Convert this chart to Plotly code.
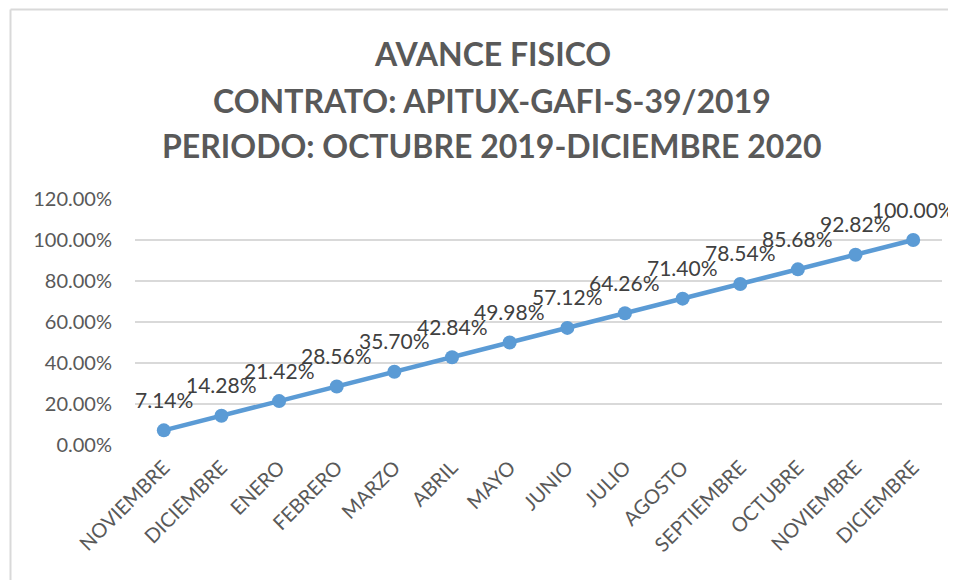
import plotly.graph_objects as go

categories = ["NOVIEMBRE", "DICIEMBRE", "ENERO", "FEBRERO", "MARZO", "ABRIL", "MAYO",
              "JUNIO", "JULIO", "AGOSTO", "SEPTIEMBRE", "OCTUBRE", "NOVIEMBRE", "DICIEMBRE"]
avance = [0.0714, 0.1428, 0.2142, 0.2856, 0.3570, 0.4284, 0.4998,
          0.5712, 0.6426, 0.7140, 0.7854, 0.8568, 0.9282, 1.0000]
title_lines = ["AVANCE FISICO", "CONTRATO: APITUX-GAFI-S-39/2019",
               "PERIODO: OCTUBRE 2019-DICIEMBRE 2020"]

# page size and page offset of the figure (body margin)
W, H = 956, 580
OFF = 8
# plot area in page pixels
PL, PR, PT, PB = 135, 942, 199, 445
pw, ph = PR - PL, PB - PT

def px_x(x):
    return (x - PL) / pw

def px_y(y):
    return (PB - y) / ph

FONT = "Lato"
xs = list(range(len(categories)))

fig = go.Figure()
fig.add_trace(go.Scatter(
    x=xs, y=avance, mode="lines+markers",
    line=dict(color="#5b9bd5", width=4.5),
    marker=dict(color="#5b9bd5", size=14),
    hoverinfo="skip", showlegend=False, cliponaxis=False,
))

annotations = []
for xi, v in zip(xs, avance):
    annotations.append(dict(
        x=xi, y=v, xref="x", yref="y", text=f"{v*100:.2f}%", showarrow=False,
        yshift=31, font=dict(family=FONT, size=21, color="#404040"),
    ))

title_y = [53, 100, 145]
for line, yy in zip(title_lines, title_y):
    annotations.append(dict(
        x=px_x(492), y=px_y(yy), xref="paper", yref="paper", text=f"<b>{line}</b>",
        showarrow=False, xanchor="center", yanchor="middle",
        font=dict(family=FONT, size=32, color="#595959"),
    ))

shapes = [
    dict(type="line", xref="paper", yref="paper", x0=px_x(10.5), x1=px_x(10.5),
         y0=px_y(9.5), y1=px_y(H + 5), line=dict(color="#d9d9d9", width=2)),
    dict(type="line", xref="paper", yref="paper", x0=px_x(10.5), x1=px_x(W + 5),
         y0=px_y(9.5), y1=px_y(9.5), line=dict(color="#d9d9d9", width=2)),
]

fig.update_layout(
    width=W - OFF, height=H - OFF,
    margin=dict(l=PL - OFF, r=W - PR, t=PT - OFF, b=H - PB),
    paper_bgcolor="white", plot_bgcolor="white",
    annotations=annotations, shapes=shapes,
    xaxis=dict(
        tickmode="array", tickvals=xs, ticktext=categories, tickangle=-45,
        range=[-0.5, len(categories) - 0.5], showgrid=False, zeroline=False,
        showline=False, ticks="", ticklabelstandoff=6,
        tickfont=dict(family=FONT, size=20, color="#595959"),
    ),
    yaxis=dict(
        range=[0, 1.2], tickvals=[0, 0.2, 0.4, 0.6, 0.8, 1.0, 1.2], tickformat=".2%",
        showgrid=True, gridcolor="#d9d9d9", gridwidth=1.5, zeroline=False,
        showline=False, ticks="", ticklabelstandoff=22,
        tickfont=dict(family=FONT, size=20, color="#595959"),
    ),
)

fig.write_html("out.html", config={"displayModeBar": False})
